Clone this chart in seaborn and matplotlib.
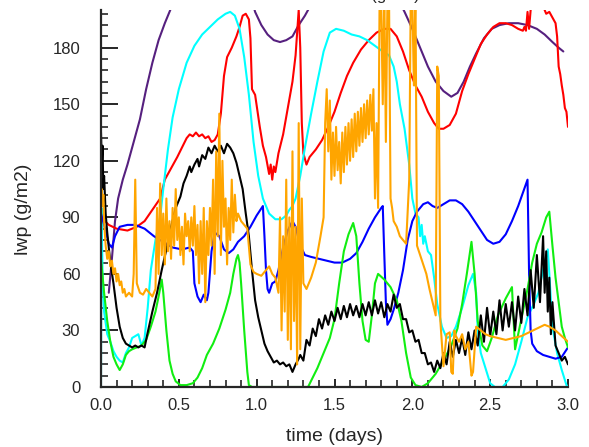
import numpy as np
import pandas as pd
import matplotlib
matplotlib.use("Agg")
import matplotlib.pyplot as plt
from matplotlib.ticker import MultipleLocator, FormatStrFormatter
import seaborn as sns

# ==========================
# Données (lwp en g/m2, temps en jours)
# ==========================
purple_t = [0.05, 0.07, 0.09, 0.11, 0.14, 0.17, 0.21, 0.25, 0.29, 0.33, 0.37, 0.41, 0.45, 0.47,
            0.97, 0.99, 1.03, 1.07, 1.11, 1.15, 1.19, 1.23, 1.27, 1.31, 1.35,
            1.92, 1.95, 2.00, 2.05, 2.10, 2.15, 2.20, 2.25, 2.29, 2.33, 2.37, 2.41, 2.46,
            2.51, 2.56, 2.62, 2.68, 2.74, 2.80, 2.85, 2.90, 2.94, 2.97]
purple_v = [50, 68, 88, 100, 110, 118, 130, 142, 158, 172, 184, 193, 201, 206,
            205, 199, 192, 187, 184, 183, 184, 186, 192, 197, 203,
            204, 199, 190, 180, 170, 162, 157, 154, 156, 162, 170, 177, 185,
            190, 192, 193, 193, 192, 190, 187, 183, 180, 178]

red_t = [0.0, 0.05, 0.10, 0.17, 0.23, 0.28, 0.33, 0.38, 0.41, 0.45, 0.49, 0.52, 0.55, 0.57,
         0.59, 0.61, 0.63, 0.65, 0.67, 0.69, 0.71, 0.73, 0.75, 0.77, 0.79, 0.81, 0.84,
         0.87, 0.89, 0.91, 0.93, 0.95, 0.96, 0.97, 0.99, 1.02, 1.04, 1.06, 1.08, 1.09,
         1.10, 1.11, 1.12, 1.14, 1.17, 1.20, 1.23, 1.25, 1.27, 1.28, 1.29, 1.30, 1.32,
         1.34, 1.38, 1.42, 1.46, 1.50, 1.54, 1.58, 1.62, 1.67, 1.72, 1.77, 1.82, 1.86,
         1.90, 1.94, 1.98, 2.02, 2.06, 2.10, 2.14, 2.17, 2.20, 2.24, 2.28, 2.32, 2.36,
         2.40, 2.44, 2.48, 2.52, 2.56, 2.60, 2.64, 2.68, 2.71, 2.72, 2.73, 2.74, 2.75,
         2.76, 2.77, 2.80, 2.84, 2.86, 2.88, 2.90, 2.92, 2.93, 2.94, 2.95, 2.96, 2.97,
         2.98, 2.99, 3.00]
red_v = [90, 86, 84, 83, 85, 88, 94, 100, 110, 116, 122, 127, 132, 134,
         133, 135, 133, 134, 132, 133, 130, 131, 134, 145, 165, 175, 180,
         186, 191, 197, 198, 195, 185, 158, 155, 138, 128, 122, 113, 118,
         110, 117, 114, 124, 134, 148, 162, 176, 200, 180, 140, 124, 118,
         122, 126, 131, 138, 146, 156, 165, 172, 179, 184, 188, 190, 190,
         186, 178, 168, 160, 154, 146, 140, 137, 137, 139, 145, 157, 166,
         174, 182, 187, 191, 193, 193, 192, 190, 189, 191, 189, 199, 190,
         200, 203, 210, 202, 198, 199, 196, 193, 186, 170, 166, 160, 155,
         148, 146, 138]

cyan_t = [0.0, 0.003, 0.01, 0.02, 0.04, 0.06, 0.08, 0.10, 0.12, 0.14, 0.16, 0.18, 0.20,
          0.22, 0.24, 0.26, 0.28, 0.30, 0.32, 0.35, 0.38, 0.40, 0.43, 0.46, 0.50, 0.55,
          0.60, 0.65, 0.70, 0.75, 0.80, 0.83, 0.86, 0.89, 0.92, 0.95, 0.98, 1.01, 1.04,
          1.08, 1.12, 1.16, 1.19, 1.21, 1.23, 1.25, 1.28, 1.31, 1.35, 1.39, 1.43, 1.47,
          1.51, 1.56, 1.61, 1.66, 1.71, 1.76, 1.81, 1.85, 1.88, 1.90, 1.92, 1.95, 1.98,
          2.00, 2.02, 2.04, 2.05, 2.06, 2.07, 2.08, 2.10, 2.12, 2.14, 2.16, 2.19, 2.22,
          2.25, 2.28, 2.32, 2.36, 2.39, 2.41, 2.42, 2.44, 2.47, 2.50, 2.53, 2.58, 2.62,
          2.66, 2.70, 2.74, 2.78, 2.81, 2.84, 2.87, 2.88, 2.90, 2.93, 2.96, 2.99, 3.00]
cyan_v = [0, 95, 60, 40, 28, 24, 19, 16, 14, 13, 18, 21, 26,
          27, 28, 22, 26, 42, 62, 78, 90, 105, 126, 143, 158, 172,
          181, 187, 191, 195, 198, 199, 197, 190, 175, 155, 130, 112, 100,
          92, 89, 89, 91, 94, 96, 100, 112, 127, 145, 162, 178, 188,
          190, 189, 187, 186, 184, 181, 178, 176, 170, 162, 150, 137, 118,
          100, 92, 90, 80, 86, 76, 80, 72, 70, 58, 44, 32, 26,
          27, 32, 42, 54, 60, 50, 30, 18, 10, 2, 0, 0, 4,
          12, 24, 37, 44, 50, 62, 73, 60, 32, 18, 9, 1, 0]

blue_t = [0.0, 0.02, 0.05, 0.07, 0.09, 0.12, 0.17, 0.22, 0.28, 0.34, 0.40, 0.46, 0.52,
          0.57, 0.59, 0.60, 0.62, 0.64, 0.66, 0.68, 0.69, 0.71, 0.73, 0.76, 0.79, 0.82,
          0.85, 0.88, 0.92, 0.96, 1.00, 1.04, 1.05, 1.06, 1.07, 1.08, 1.10, 1.12, 1.14,
          1.17, 1.20, 1.23, 1.25, 1.28, 1.31, 1.35, 1.40, 1.45, 1.50, 1.55, 1.60, 1.64,
          1.68, 1.72, 1.76, 1.80, 1.81, 1.82, 1.83, 1.84, 1.86, 1.88, 1.91, 1.94, 1.97,
          2.00, 2.03, 2.07, 2.10, 2.13, 2.16, 2.20, 2.24, 2.28, 2.32, 2.36, 2.40, 2.44,
          2.48, 2.52, 2.56, 2.60, 2.64, 2.68, 2.71, 2.74, 2.75, 2.76, 2.77, 2.80, 2.84,
          2.88, 2.92, 2.96, 3.00]
blue_v = [92, 86, 76, 74, 80, 85, 86, 86, 84, 80, 77, 74, 73,
          74, 72, 55, 48, 45, 49, 46, 50, 72, 82, 80, 73, 71,
          73, 77, 80, 85, 91, 96, 80, 62, 52, 50, 55, 56, 62,
          74, 83, 88, 85, 75, 70, 69, 68, 67, 66, 66, 68, 71,
          77, 84, 90, 95, 96, 70, 45, 33, 36, 41, 50, 62, 78,
          88, 93, 97, 98, 96, 95, 97, 99, 99, 97, 93, 88, 83,
          78, 76, 77, 81, 88, 96, 103, 110, 60, 30, 23, 19, 17,
          16, 15, 16, 21]

green_t = [0.0, 0.02, 0.04, 0.06, 0.08, 0.10, 0.12, 0.14, 0.16, 0.18, 0.20, 0.23, 0.26,
           0.29, 0.32, 0.35, 0.37, 0.39, 0.40, 0.42, 0.44, 0.46, 0.48, 0.51, 0.55, 0.59,
           0.62, 0.65, 0.68, 0.72, 0.76, 0.80, 0.83, 0.85, 0.87, 0.88, 0.89, 0.90, 0.92,
           0.94, 0.95, 0.97, 1.33, 1.36, 1.39, 1.43, 1.47, 1.50, 1.53, 1.56, 1.59, 1.62,
           1.64, 1.66, 1.68, 1.70, 1.72, 1.74, 1.76, 1.78, 1.82, 1.86, 1.90, 1.93, 1.96,
           1.99, 2.02, 2.06, 2.10, 2.15, 2.20, 2.25, 2.29, 2.32, 2.35, 2.38, 2.40, 2.42,
           2.45, 2.48, 2.51, 2.55, 2.60, 2.64, 2.66, 2.68, 2.71, 2.74, 2.77, 2.80, 2.83,
           2.86, 2.88, 2.90, 2.92, 2.94, 2.96, 2.98, 3.00]
green_v = [68, 50, 35, 24, 16, 12, 9, 12, 17, 19, 20, 21, 22,
           25, 32, 40, 48, 57, 50, 30, 14, 7, 3, 1, 1, 2,
           5, 10, 17, 23, 31, 41, 50, 60, 68, 70, 66, 55, 30,
           8, 1, 0, 0, 5, 10, 18, 26, 36, 55, 72, 81, 87,
           80, 55, 35, 25, 24, 38, 55, 60, 57, 53, 46, 35, 18,
           5, 1, 0, 2, 7, 14, 22, 31, 44, 60, 77, 60, 35,
           22, 19, 26, 38, 47, 53, 20, 28, 40, 52, 66, 76, 82,
           90, 93, 75, 58, 45, 32, 26, 21]

orange_t = [0.0, 0.005, 0.01, 0.015, 0.02, 0.03, 0.04, 0.05, 0.06, 0.07, 0.08, 0.09, 0.10,
            0.11, 0.12, 0.13, 0.14, 0.15, 0.16, 0.18, 0.20, 0.21, 0.22, 0.23, 0.25, 0.27,
            0.29, 0.31, 0.33, 0.35, 0.36, 0.37, 0.38, 0.39, 0.40, 0.41, 0.42, 0.43, 0.44,
            0.45, 0.46, 0.47, 0.48, 0.49, 0.50, 0.51, 0.52, 0.53, 0.54, 0.55, 0.56, 0.57,
            0.58, 0.59, 0.60, 0.61, 0.62, 0.63, 0.64, 0.65, 0.66, 0.67, 0.68, 0.69, 0.70,
            0.71, 0.72, 0.73, 0.74, 0.75, 0.76, 0.77, 0.78, 0.79, 0.80, 0.81, 0.82, 0.83,
            0.84, 0.85, 0.86, 0.87, 0.88, 0.90, 0.92, 0.94, 0.96, 0.98, 1.00, 1.03, 1.06,
            1.08, 1.10, 1.12, 1.14, 1.15, 1.16, 1.17, 1.18, 1.19, 1.20, 1.21, 1.22, 1.23,
            1.24, 1.25, 1.26, 1.27, 1.28, 1.29, 1.30, 1.32, 1.35, 1.38, 1.41, 1.43, 1.44,
            1.45, 1.46, 1.47, 1.48, 1.49, 1.50, 1.51, 1.52, 1.53, 1.54, 1.55, 1.56, 1.57,
            1.58, 1.59, 1.60, 1.61, 1.62, 1.63, 1.64, 1.65, 1.66, 1.67, 1.68, 1.69, 1.70,
            1.71, 1.72, 1.73, 1.74, 1.75, 1.76, 1.77, 1.78, 1.79, 1.80, 1.81, 1.82, 1.83,
            1.84, 1.85, 1.86, 1.87, 1.88, 1.90, 1.92, 1.94, 1.96, 1.98, 1.99, 2.00, 2.01,
            2.02, 2.03, 2.05, 2.07, 2.09, 2.11, 2.13, 2.15, 2.16, 2.17, 2.18, 2.20, 2.22,
            2.24, 2.25, 2.26, 2.27, 2.28, 2.30, 2.32, 2.34, 2.36, 2.38, 2.39, 2.41, 2.44,
            2.47, 2.50, 2.55, 2.60, 2.65, 2.70, 2.75, 2.80, 2.85, 2.88, 2.92, 2.96, 3.00]
orange_v = [100, 105, 96, 102, 88, 75, 68, 72, 64, 67, 60, 63, 56,
            60, 54, 56, 50, 52, 48, 50, 48, 60, 110, 55, 50, 49,
            52, 50, 48, 52, 95, 60, 108, 70, 92, 65, 100, 72, 88,
            68, 95, 75, 105, 78, 90, 70, 85, 65, 92, 80, 88, 72,
            90, 75, 96, 70, 86, 55, 88, 60, 95, 45, 88, 70, 95,
            75, 110, 60, 125, 80, 145, 70, 120, 85, 100, 65, 95, 78,
            110, 82, 102, 88, 92, 88, 86, 84, 65, 61, 60, 59, 62,
            64, 60, 58, 50, 90, 30, 80, 40, 110, 25, 90, 20, 125,
            35, 85, 12, 140, 20, 100, 55, 52, 58, 66, 80, 90, 140,
            158, 125, 152, 110, 135, 112, 138, 115, 130, 108, 135, 114, 138,
            118, 140, 120, 142, 122, 145, 125, 146, 128, 148, 130, 150, 132,
            152, 134, 155, 136, 158, 100, 140, 95, 210, 205, 150, 210, 130,
            205, 210, 100, 95, 88, 85, 80, 78, 76, 110, 210, 205, 160,
            210, 75, 70, 65, 60, 52, 45, 38, 170, 165, 35, 11, 28,
            29, 8, 7, 30, 27, 24, 28, 20, 24, 6, 8, 32, 30,
            28, 27, 26, 25, 26, 27, 29, 31, 33, 32, 30, 27, 24]

black_t = [0.0, 0.005, 0.01, 0.015, 0.02, 0.03, 0.04, 0.06, 0.08, 0.10, 0.12, 0.14, 0.16,
           0.18, 0.20, 0.22, 0.24, 0.26, 0.28, 0.30, 0.33, 0.36, 0.39, 0.42, 0.45, 0.48,
           0.51, 0.53, 0.55, 0.57, 0.58, 0.60, 0.62, 0.63, 0.65, 0.67, 0.69, 0.71, 0.73,
           0.75, 0.77, 0.79, 0.81, 0.83, 0.85, 0.87, 0.89, 0.91, 0.93, 0.95, 0.97, 0.99,
           1.01, 1.03, 1.05, 1.07, 1.09, 1.11, 1.13, 1.15, 1.17, 1.19, 1.21, 1.23, 1.25,
           1.27, 1.28, 1.30, 1.32, 1.34, 1.36, 1.38, 1.40, 1.42, 1.44, 1.46, 1.48, 1.50,
           1.52, 1.54, 1.56, 1.58, 1.60, 1.62, 1.64, 1.66, 1.68, 1.70, 1.72, 1.74, 1.76,
           1.78, 1.80, 1.82, 1.84, 1.86, 1.88, 1.90, 1.92, 1.94, 1.96, 1.98, 2.00, 2.02,
           2.04, 2.06, 2.08, 2.10, 2.12, 2.14, 2.16, 2.18, 2.20, 2.22, 2.24, 2.26, 2.28,
           2.30, 2.32, 2.34, 2.36, 2.38, 2.40, 2.42, 2.44, 2.46, 2.48, 2.50, 2.52, 2.54,
           2.56, 2.58, 2.60, 2.62, 2.64, 2.66, 2.68, 2.70, 2.72, 2.74, 2.76, 2.78, 2.80,
           2.82, 2.84, 2.85, 2.86, 2.87, 2.88, 2.89, 2.90, 2.92, 2.94, 2.96, 2.98, 3.00]
black_v = [135, 118, 128, 105, 112, 92, 82, 66, 55, 42, 32, 26, 23,
           22, 21, 22, 21, 22, 21, 29, 40, 50, 62, 73, 85, 95,
           101, 108, 112, 117, 114, 118, 121, 117, 123, 121, 127, 124, 128,
           125, 128, 124, 129, 127, 124, 119, 112, 105, 92, 80, 62, 46,
           37, 30, 23, 19, 16, 13, 14, 12, 13, 11, 12, 8, 12,
           15, 17, 14, 25, 22, 31, 27, 36, 31, 38, 33, 40, 35,
           42, 36, 43, 37, 44, 38, 43, 37, 44, 38, 45, 38, 46,
           39, 45, 37, 44, 40, 49, 42, 44, 36, 36, 29, 30, 24,
           25, 18, 18, 12, 13, 8, 14, 10, 18, 12, 24, 16, 25,
           18, 26, 17, 29, 20, 30, 22, 38, 24, 42, 27, 40, 28,
           46, 30, 44, 32, 45, 30, 48, 34, 52, 38, 62, 42, 70,
           45, 80, 50, 72, 40, 58, 28, 45, 22, 18, 14, 16, 12]

series = [
    ("purple", purple_t, purple_v, "#56207f"),
    ("red", red_t, red_v, "#ff0000"),
    ("cyan", cyan_t, cyan_v, "#00ffff"),
    ("blue", blue_t, blue_v, "#0000ff"),
    ("green", green_t, green_v, "#11ee11"),
    ("black", black_t, black_v, "#000000"),
    ("orange", orange_t, orange_v, "#ffa500"),
]

# ==========================
# Figure
# ==========================
sns.set_style("ticks")
plt.rcParams["font.family"] = ["Liberation Sans", "DejaVu Sans"]

fig = plt.figure(figsize=(5.89, 4.47), dpi=100)
ax = fig.add_axes([101 / 589, 1 - 387 / 447, 467 / 589, 377 / 447])

for name, t, v, col in series:
    df = pd.DataFrame({"time": t, "lwp": v})
    sns.lineplot(data=df, x="time", y="lwp", color=col, linewidth=1.5,
                 sort=False, estimator=None, ax=ax)

ax.set_xlim(0, 3.0)
ax.set_ylim(0, 200)
ax.xaxis.set_major_locator(MultipleLocator(0.5))
ax.xaxis.set_minor_locator(MultipleLocator(0.1))
ax.xaxis.set_major_formatter(FormatStrFormatter("%.1f"))
ax.yaxis.set_major_locator(MultipleLocator(30))
ax.yaxis.set_minor_locator(MultipleLocator(6))

ax.tick_params(axis="y", which="major", direction="in", length=12, width=1.4,
               pad=15, labelsize=12)
ax.tick_params(axis="y", which="minor", direction="in", length=5, width=1.2)
ax.tick_params(axis="x", which="major", direction="in", length=6, width=1.4,
               pad=8, labelsize=12)
ax.tick_params(axis="x", which="minor", direction="in", length=5, width=1.2)

sns.despine(ax=ax)
for s in ["left", "bottom"]:
    ax.spines[s].set_linewidth(1.6)

ax.set_xlabel("time (days)", fontsize=14, va="center")
ax.set_ylabel("lwp (g/m2)", fontsize=14, va="center")
ax.xaxis.set_label_coords(0.5, -0.13)
ax.yaxis.set_label_coords(-0.165, 0.47)

# titre coupé en haut de l'image
fig.text(420 / 589, 1.0, "LWP (g/m2)", ha="right", va="baseline", fontsize=12)

fig.savefig("out.png", dpi=100)
